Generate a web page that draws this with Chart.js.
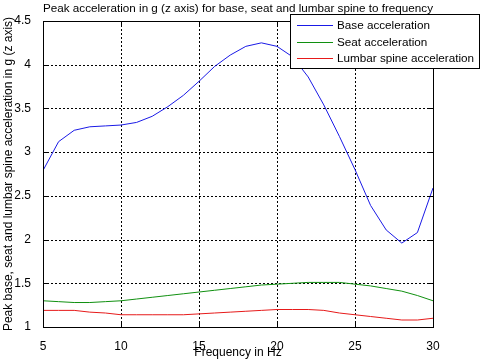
<!DOCTYPE html>
<html>
<head>
<meta charset="utf-8">
<script src="https://cdn.jsdelivr.net/npm/chart.js@4/dist/chart.umd.min.js"></script>
<style>
html,body{margin:0;padding:0;background:#fff;}
#wrap{width:481px;height:361px;position:relative;}
</style>
</head>
<body>
<div id="wrap"><canvas id="c" width="481" height="361"></canvas></div>
<script>
const frequencies = [5,6,7,8,9,10,11,12,13,14,15,16,17,18,19,20,21,22,23,24,25,26,27,28,29,30];
const baseAcceleration = [2.79,3.12,3.25,3.29,3.30,3.31,3.34,3.41,3.52,3.65,3.81,3.98,4.11,4.21,4.25,4.21,4.09,3.86,3.54,3.18,2.80,2.39,2.11,1.96,2.08,2.59];
const seatAcceleration = [1.30,1.29,1.28,1.28,1.29,1.30,1.32,1.34,1.36,1.38,1.40,1.42,1.44,1.46,1.48,1.49,1.50,1.51,1.51,1.51,1.49,1.47,1.44,1.41,1.36,1.30];
const lumbarAcceleration = [1.19,1.19,1.19,1.17,1.16,1.14,1.14,1.14,1.14,1.14,1.15,1.16,1.17,1.18,1.19,1.20,1.20,1.20,1.19,1.16,1.14,1.12,1.10,1.08,1.08,1.10];
const seriesLabels = ['Base acceleration','Seat acceleration','Lumbar spine acceleration'];
const seriesColors = ['#1a1ae6','#109010','#e61a1a'];
const xTicks = [5,10,15,20,25,30];
const yTicks = [1,1.5,2,2.5,3,3.5,4,4.5];
const titleText = 'Peak acceleration in g (z axis) for base, seat and lumbar spine to frequency';
const xTitle = 'Frequency in Hz';
const yTitle = 'Peak base, seat and lumbar spine acceleration in g (z axis)';

const FONT = "'Liberation Sans', Arial, sans-serif";
Chart.defaults.font.family = FONT;
Chart.defaults.color = '#000';

function toPoints(ys){ return frequencies.map((x,i)=>({x:x,y:ys[i]})); }

const frame = {
  id:'frame',
  beforeDatasetsDraw(chart){
    const ctx = chart.ctx, a = chart.chartArea;
    const xs = chart.scales.x, ys = chart.scales.y;
    ctx.save();
    ctx.strokeStyle = '#000'; ctx.lineWidth = 1; ctx.setLineDash([2,2]);
    ctx.beginPath();
    xTicks.forEach(v=>{
      const px = Math.round(xs.getPixelForValue(v))+0.5;
      ctx.moveTo(px,a.bottom); ctx.lineTo(px,a.top);
    });
    yTicks.forEach(v=>{
      const py = Math.round(ys.getPixelForValue(v))+0.5;
      ctx.moveTo(a.left,py); ctx.lineTo(a.right,py);
    });
    ctx.stroke();
    ctx.restore();
  },
  afterDraw(chart){
    const ctx = chart.ctx, a = chart.chartArea;
    const xs = chart.scales.x, ys = chart.scales.y;
    ctx.save();
    ctx.strokeStyle = '#000'; ctx.lineWidth = 1; ctx.setLineDash([]);
    ctx.beginPath();
    xTicks.forEach(v=>{
      const px = Math.round(xs.getPixelForValue(v))+0.5;
      ctx.moveTo(px,a.bottom); ctx.lineTo(px,a.bottom-4);
      ctx.moveTo(px,a.top); ctx.lineTo(px,a.top+4);
    });
    yTicks.forEach(v=>{
      const py = Math.round(ys.getPixelForValue(v))+0.5;
      ctx.moveTo(a.left,py); ctx.lineTo(a.left+4,py);
      ctx.moveTo(a.right,py); ctx.lineTo(a.right-4,py);
    });
    ctx.stroke();
    ctx.strokeRect(Math.round(a.left)+0.5, Math.round(a.top)+0.5, Math.round(a.right-a.left), Math.round(a.bottom-a.top));
    // legend box
    const lx = 290.5, ly = 14.5, lw = 189, lh = 54;
    ctx.fillStyle = '#fff';
    ctx.fillRect(lx,ly,lw,lh);
    ctx.strokeRect(lx,ly,lw,lh);
    const rows = [25,42,58];
    ctx.font = '11.7px ' + FONT;
    ctx.textBaseline = 'middle';
    ctx.textAlign = 'left';
    chart.data.datasets.forEach((ds,i)=>{
      ctx.strokeStyle = ds.borderColor;
      ctx.beginPath();
      ctx.moveTo(297, rows[i]+0.5); ctx.lineTo(333, rows[i]+0.5);
      ctx.stroke();
      ctx.fillStyle = '#000';
      ctx.fillText(ds.label, 337, rows[i]+1);
    });
    ctx.restore();
  }
};

new Chart(document.getElementById('c'), {
  type:'line',
  data:{
    datasets:[
      {label:seriesLabels[0], data:toPoints(baseAcceleration), borderColor:seriesColors[0], borderWidth:1, pointRadius:0, tension:0, fill:false},
      {label:seriesLabels[1], data:toPoints(seatAcceleration), borderColor:seriesColors[1], borderWidth:1, pointRadius:0, tension:0, fill:false},
      {label:seriesLabels[2], data:toPoints(lumbarAcceleration), borderColor:seriesColors[2], borderWidth:1, pointRadius:0, tension:0, fill:false}
    ]
  },
  options:{
    responsive:false,
    animation:false,
    layout:{padding:0},
    plugins:{
      legend:{display:false},
      tooltip:{enabled:false},
      title:{display:true, fullSize:false, text:titleText, font:{size:11.7, weight:'normal', family:FONT}, color:'#000', padding:{top:2,bottom:4.96}}
    },
    scales:{
      x:{
        type:'linear', min:5, max:30,
        afterFit(s){ s.height = 34; },
        afterBuildTicks(s){ s.ticks = xTicks.map(v=>({value:v})); },
        ticks:{font:{size:12}, color:'#000', padding:4, maxRotation:0},
        grid:{display:false},
        border:{display:false},
        title:{display:true, text:xTitle, font:{size:12}, color:'#000', padding:{top:0,bottom:1}}
      },
      y:{
        type:'linear', min:1, max:4.5,
        afterFit(s){ s.width = 43; },
        afterBuildTicks(s){ s.ticks = yTicks.map(v=>({value:v})); },
        ticks:{font:{size:12}, color:'#000', padding:4, callback:(v)=>String(v)},
        grid:{display:false},
        border:{display:false},
        title:{display:true, text:yTitle, font:{size:12}, color:'#000', padding:{top:1,bottom:0}}
      },
      yRight:{
        type:'linear', position:'right', min:1, max:4.5,
        afterFit(s){ s.width = 48; },
        ticks:{display:false},
        grid:{display:false},
        border:{display:false}
      }
    }
  },
  plugins:[frame]
});
</script>
</body>
</html>
